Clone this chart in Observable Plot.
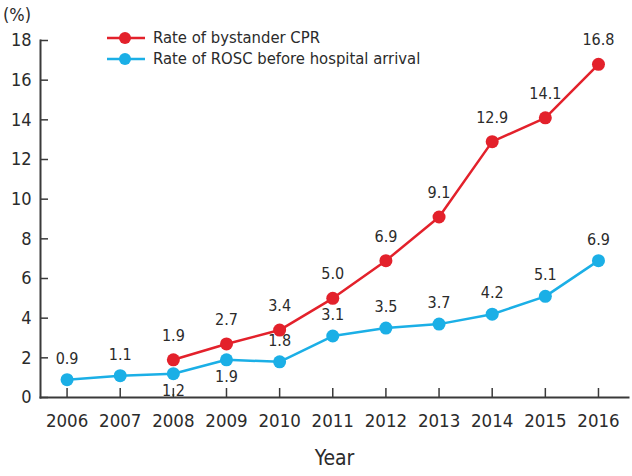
<!DOCTYPE html>
<html><head><meta charset="utf-8">
<script src="https://cdn.jsdelivr.net/npm/d3@7"></script>
<script src="https://cdn.jsdelivr.net/npm/@observablehq/plot@0.6"></script>
<style>
body{margin:0;background:#fff;}
#wrap{position:relative;width:632px;height:476px;font-family:"Liberation Sans Narrow","DejaVu Sans Condensed",sans-serif;color:#2b2b2b;}
#unit{position:absolute;left:3px;top:4px;font-size:18px;}
#legend{position:absolute;left:106px;top:27px;font-size:16.5px;}
.item{display:flex;align-items:center;height:21px;}
.item svg{margin-right:7px;}
</style></head><body><div id="wrap"><div id="unit">(%)</div><div id="legend"></div></div>
<script>
const years = [2006, 2007, 2008, 2009, 2010, 2011, 2012, 2013, 2014, 2015, 2016];
const cprValues = [null, null, 1.9, 2.7, 3.4, 5.0, 6.9, 9.1, 12.9, 14.1, 16.8];
const roscValues = [0.9, 1.1, 1.2, 1.9, 1.8, 3.1, 3.5, 3.7, 4.2, 5.1, 6.9];
const yTicks = [0, 2, 4, 6, 8, 10, 12, 14, 16, 18];
const seriesNames = ["Rate of bystander CPR", "Rate of ROSC before hospital arrival"];
const seriesColors = ["#e3212b", "#1bafe6"];
const xTitle = "Year";
const roscLabelsBelow = [2008, 2009];

const cpr = years.map((y, i) => ({year: y, value: cprValues[i]})).filter(d => d.value != null);
const rosc = years.map((y, i) => ({year: y, value: roscValues[i]}));
const fmt = v => v.toFixed(1);
const font = '"Liberation Sans Narrow","DejaVu Sans Condensed",sans-serif';
const axisColor = "#3a3a3a";
const textColor = "#2b2b2b";

const chart = Plot.plot({
  width: 632, height: 476,
  marginLeft: 40, marginRight: 4, marginTop: 40, marginBottom: 79,
  style: {fontFamily: font, background: "transparent", color: textColor, overflow: "visible"},
  x: {type: "linear", domain: [2005.5, 2016.565]},
  y: {domain: [0, 18]},
  marks: [
    Plot.frame({anchor: "left", stroke: axisColor, strokeWidth: 2}),
    Plot.frame({anchor: "bottom", stroke: axisColor, strokeWidth: 2}),
    Plot.axisY(yTicks, {tickSize: -8, tickPadding: 17, tickFormat: d => String(d), fontSize: 18, label: null, stroke: axisColor, strokeWidth: 1.5, fill: textColor}),
    Plot.axisX(years, {tickSize: -9, tickPadding: 25, tickFormat: d => String(d), fontSize: 18.5, label: null, stroke: axisColor, strokeWidth: 1.5, fill: textColor}),
    Plot.text([xTitle], {frameAnchor: "bottom", dy: 67, fontSize: 21, fill: textColor}),
    Plot.line(cpr, {x: "year", y: "value", stroke: seriesColors[0], strokeWidth: 2.5}),
    Plot.line(rosc, {x: "year", y: "value", stroke: seriesColors[1], strokeWidth: 2.5}),
    Plot.dot(cpr, {x: "year", y: "value", r: 6.5, fill: seriesColors[0]}),
    Plot.dot(rosc, {x: "year", y: "value", r: 6.5, fill: seriesColors[1]}),
    Plot.text(cpr, {x: "year", y: "value", text: d => fmt(d.value), dy: -24, fontSize: 16, fill: textColor}),
    Plot.text(rosc.filter(d => !roscLabelsBelow.includes(d.year)), {x: "year", y: "value", text: d => fmt(d.value), dy: -21, fontSize: 16, fill: textColor}),
    Plot.text(rosc.filter(d => roscLabelsBelow.includes(d.year)), {x: "year", y: "value", text: d => fmt(d.value), dy: 17, fontSize: 16, fill: textColor})
  ]
});
chart.style.position = "absolute";
chart.style.left = "0";
chart.style.top = "0";
const wrap = document.getElementById("wrap");
wrap.insertBefore(chart, wrap.firstChild);

const legend = document.getElementById("legend");
seriesNames.forEach((name, i) => {
  const div = document.createElement("div");
  div.className = "item";
  div.innerHTML = `<svg width="40" height="14"><line x1="1" x2="39" y1="7" y2="7" stroke="${seriesColors[i]}" stroke-width="2.5"/><circle cx="19" cy="7" r="6" fill="${seriesColors[i]}"/></svg><span>${name}</span>`;
  legend.appendChild(div);
});
</script>
</body></html>
